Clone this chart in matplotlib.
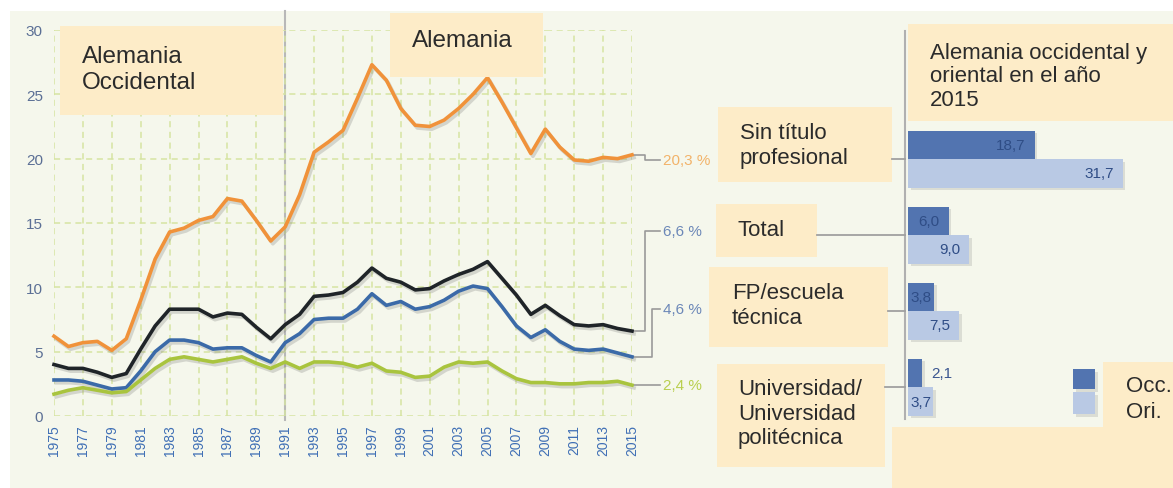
import matplotlib.pyplot as plt
import matplotlib.patheffects as pe
import matplotlib.transforms as mtransforms
from matplotlib.patches import Rectangle

plt.rcParams['font.family'] = ['Liberation Sans', 'DejaVu Sans']

# tasa de desempleo (%) por cualificación, 1975-2015
years = list(range(1975, 2016))
sin_titulo = [6.2, 5.4, 5.7, 5.8, 5.1, 6.0, 9.0, 12.2, 14.3, 14.6,
              15.2, 15.5, 16.9, 16.7, 15.2, 13.6, 14.7, 17.2, 20.5, 21.3,
              22.2, 24.7, 27.3, 26.1, 23.9, 22.6, 22.5, 23.0, 23.9, 25.0,
              26.3, 24.4, 22.4, 20.4, 22.3, 20.9, 19.9, 19.8, 20.1, 20.0,
              20.3]
total = [4.0, 3.7, 3.7, 3.4, 3.0, 3.3, 5.2, 7.0, 8.3, 8.3,
         8.3, 7.7, 8.0, 7.9, 6.9, 6.0, 7.1, 7.9, 9.3, 9.4,
         9.6, 10.4, 11.5, 10.7, 10.4, 9.8, 9.9, 10.5, 11.0, 11.4,
         12.0, 10.7, 9.4, 7.9, 8.6, 7.8, 7.1, 7.0, 7.1, 6.8,
         6.6]
fp_escuela = [2.8, 2.8, 2.7, 2.4, 2.1, 2.2, 3.5, 5.0, 5.9, 5.9,
              5.7, 5.2, 5.3, 5.3, 4.7, 4.2, 5.7, 6.4, 7.5, 7.6,
              7.6, 8.3, 9.5, 8.6, 8.9, 8.3, 8.5, 9.0, 9.7, 10.1,
              9.9, 8.5, 7.0, 6.1, 6.7, 5.8, 5.2, 5.1, 5.2, 4.9,
              4.6]
universidad = [1.7, 2.0, 2.2, 2.0, 1.8, 1.9, 2.8, 3.7, 4.4, 4.6,
               4.4, 4.2, 4.4, 4.6, 4.1, 3.7, 4.2, 3.7, 4.2, 4.2,
               4.1, 3.8, 4.1, 3.5, 3.4, 3.0, 3.1, 3.8, 4.2, 4.1,
               4.2, 3.5, 2.9, 2.6, 2.6, 2.5, 2.5, 2.6, 2.6, 2.7,
               2.4]
end_labels = ['20,3 %', '6,6 %', '4,6 %', '2,4 %']

# 2015: occidental / oriental
categorias = ['Sin título\nprofesional', 'Total', 'FP/escuela\ntécnica',
              'Universidad/\nUniversidad\npolitécnica']
occ_2015 = [18.7, 6.0, 3.8, 2.1]
ori_2015 = [31.7, 9.0, 7.5, 3.7]

BG = '#f5f7ec'
CREAM = '#fdecc8'
GRID = '#d6e4a2'
TXT = '#2b2b2b'
OCC = '#5274b0'
ORI = '#b9c9e4'

W, H = 1173, 489
fig = plt.figure(figsize=(W / 100, H / 100), dpi=100, facecolor='white')


def px_axes(left, top, right, bottom, z):
    return fig.add_axes([left / W, 1 - bottom / H, (right - left) / W, (bottom - top) / H], zorder=z)


# background
ax_bg = fig.add_axes([0, 0, 1, 1], zorder=0)
ax_bg.set_xlim(0, W)
ax_bg.set_ylim(H, 0)
ax_bg.axis('off')
ax_bg.add_patch(Rectangle((10, 12), W - 10, H - 12, color=BG, lw=0))

# line chart
ax = px_axes(54, 31, 632, 417, 1)
ax.set_facecolor('none')
ax.set_xlim(1975, 2015)
ax.set_ylim(0, 30)
ax.set_xticks(range(1975, 2016, 2))
ax.set_yticks(range(0, 31, 5))
ax.grid(True, ls=(0, (4, 3)), color=GRID, lw=1.1)
for s in ax.spines.values():
    s.set_visible(False)
ax.tick_params(axis='x', length=0, pad=6, labelsize=10, labelcolor='#3f6fb5', labelrotation=90)
ax.tick_params(axis='y', length=0, pad=8, labelsize=11, labelcolor='#5b6f95')

ax.axvline(1991, ymin=-0.01, ymax=1.05, color='#b8b8b8', lw=1.5, clip_on=False, zorder=1.5)

series = [(sin_titulo, '#f0923a'), (total, '#1f2428'),
          (fp_escuela, '#3b6aa8'), (universidad, '#a9c43e')]
shadow = [pe.SimpleLineShadow(offset=(1.5, -2), shadow_color='#707070', alpha=0.25), pe.Normal()]
for vals, col in series:
    ax.plot(years, vals, color=col, lw=2.6, solid_joinstyle='round', clip_on=False,
            path_effects=shadow, zorder=3)

# end labels with brackets
label_cols = ['#f2b36a', '#6c88b8', '#6c88b8', '#b9cf4f']
label_y = [19.9, 14.4, 8.3, universidad[-1]]
bracket_x = [2015.9, 2015.9, 2016.4, 2016.4]
for (vals, _), txt, col, ly, bx in zip(series, end_labels, label_cols, label_y, bracket_x):
    v = vals[-1]
    ax.plot([2015.1, bx, bx, 2016.95], [v, v, ly, ly], color='#9a9a9a', lw=1.2,
            clip_on=False, zorder=2)
    ax.text(2017.15, ly, txt, color=col, fontsize=11, va='center', ha='left')

# bar chart
axb = px_axes(908, 32, W, 420, 1)
axb.set_facecolor('none')
axb.set_xlim(0, (W - 908) / 6.77)
axb.set_ylim(3.42, -1.684)
idx = list(range(len(categorias)))
bar_shadow = [pe.SimplePatchShadow(offset=(2, -2), shadow_rgbFace='#909090', alpha=0.25), pe.Normal()]
axb.barh([i - 0.19 for i in idx], occ_2015, height=0.37, color=OCC, path_effects=bar_shadow, zorder=2)
axb.barh([i + 0.19 for i in idx], ori_2015, height=0.37, color=ORI, path_effects=bar_shadow, zorder=2)
for i in idx:
    for v, dy in ((occ_2015[i], -0.19), (ori_2015[i], 0.19)):
        lab = f'{v:.1f}'.replace('.', ',')
        if v < 3:
            axb.text(v + 1.4, i + dy, lab, color='#3b5690', fontsize=11, va='center', ha='left', zorder=3)
        else:
            off = 1.3 if v > 5 else 0.3
            axb.text(v - off, i + dy, lab, color='#2f4d86', fontsize=11, va='center', ha='right', zorder=3)
for name, s in axb.spines.items():
    s.set_visible(name == 'left')
axb.spines['left'].set_position(('outward', 2.2))
axb.spines['left'].set_color('#b0b0b0')
axb.spines['left'].set_linewidth(1.5)
axb.set_xticks([])
axb.set_yticks([])

# overlay: boxes, titles, connectors
ax_top = fig.add_axes([0, 0, 1, 1], zorder=3)
ax_top.set_facecolor('none')
ax_top.set_xlim(0, W)
ax_top.set_ylim(H, 0)
ax_top.axis('off')


def box(x0, y0, x1, y1):
    ax_top.add_patch(Rectangle((x0, y0), x1 - x0, y1 - y0, color=CREAM, lw=0))


box(60, 27, 283, 116)
ax_top.text(82, 70, 'Alemania\nOccidental', fontsize=17.5, color=TXT, va='center', ha='left')
box(390, 14, 543, 78)
ax_top.text(412, 41, 'Alemania', fontsize=17.5, color=TXT, va='center', ha='left')

box(908, 25, W, 122)
ax_top.text(930, 77, 'Alemania occidental y\noriental en el año\n2015', fontsize=16,
            color=TXT, va='center', ha='left', linespacing=1.15)

cat_boxes = [(718, 108, 892, 183), (716, 205, 817, 258),
             (709, 268, 888, 348), (717, 365, 885, 468)]
cat_text_x = [740, 737, 732, 738]
cat_text_y = [146, 231, 306, 414]
conn = mtransforms.blended_transform_factory(ax_top.transData, axb.transData)
for i, (cat, bx, tx, ty) in enumerate(zip(categorias, cat_boxes, cat_text_x, cat_text_y)):
    box(*bx)
    ax_top.text(tx, ty, cat, fontsize=16, color=TXT, va='center', ha='left', linespacing=1.2)
    ax_top.plot([bx[2], 905], [i, i], color='#a0a0a0', lw=1.3, transform=conn)

# legend
box(1103, 363, W, 428)
box(892, 428, W, H)
sq_shadow = [pe.SimplePatchShadow(offset=(2, -2), shadow_rgbFace='#909090', alpha=0.25), pe.Normal()]
ax_top.add_patch(Rectangle((1073, 370), 22, 20, color=OCC, lw=0, path_effects=sq_shadow))
ax_top.add_patch(Rectangle((1073, 393), 22, 22, color=ORI, lw=0, path_effects=sq_shadow))
ax_top.text(1126, 386, 'Occ.', fontsize=16, color=TXT, va='center', ha='left')
ax_top.text(1126, 412, 'Ori.', fontsize=16, color=TXT, va='center', ha='left')

fig.savefig('out.png', dpi=100, facecolor=fig.get_facecolor())
